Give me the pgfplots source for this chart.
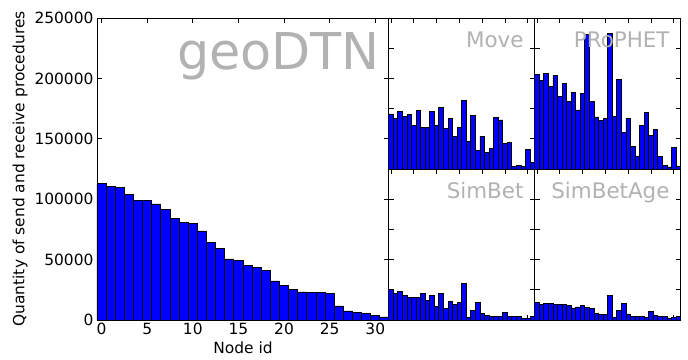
\documentclass[border=0pt]{standalone}
\usepackage{fontspec}
\setmainfont{DejaVu Sans}
\usepackage{pgfplots}
\pgfplotsset{compat=1.18}
\definecolor{lbl}{rgb}{0.7,0.7,0.7}
\pgfplotsset{
  common/.style={scale only axis, ybar, bar width=1, xmin=-0.5, xmax=31.5, ymin=0,
    tick align=inside, xtick pos=both, ytick pos=both, major tick length=5bp,
    scaled ticks=false,
    axis line style={line width=0.9bp}, every tick/.style={black, line width=0.8bp},
    tick label style={font=\fontsize{15.5}{18}\selectfont},
    /pgf/number format/assume math mode=true, xtick={0,5,...,30}},
  small/.style={common, width=146bp, height=151bp, ymax=125000, ytick={0,25000,...,125000},
    xticklabels={}, yticklabels={}, axis background/.style={fill=white}},
}
\tikzset{
  barsty/.style={fill=blue, draw=black, line width=0.8bp},
  plbl/.style={anchor=base east, text=lbl, inner sep=0pt, font=\fontsize{21.5}{24}\selectfont, xshift=-11bp, yshift=-30bp}
}
\begin{document}
\begin{tikzpicture}
\begin{axis}[common, at={(0bp,0bp)}, anchor=south west, width=292bp, height=302bp,
  ymax=250000, ytick={0,50000,...,250000}, xticklabel pos=lower, yticklabel pos=left,
  yticklabel style={/pgf/number format/fixed, /pgf/number format/1000 sep={}},
  xlabel={Node id}, ylabel={Quantity of send and receive procedures},
  label style={font=\fontsize{15.5}{18}\selectfont}]
\addplot[barsty] coordinates {(0,112700) (1,110200) (2,109400) (3,104100) (4,98900) (5,98900) (6,96100) (7,91700) (8,84200) (9,80900) (10,79800) (11,73700) (12,64400) (13,59400) (14,50500) (15,49200) (16,45300) (17,43400) (18,40900) (19,32300) (20,28700) (21,25400) (22,23200) (23,22600) (24,22600) (25,22100) (26,11600) (27,7500) (28,6600) (29,5200) (30,4100) (31,2500)};
\node[anchor=base east, text=lbl, inner sep=0pt, font=\fontsize{51}{56}\selectfont, xshift=-9bp, yshift=-52bp] at (rel axis cs:1,1) {geoDTN};
\end{axis}
\begin{axis}[small, at={(291.7bp,151bp)}, anchor=south west]
\addplot[barsty] coordinates {(0,45600) (1,41700) (2,47500) (3,43300) (4,45000) (5,35800) (6,48100) (7,34700) (8,34700) (9,47500) (10,36100) (11,50800) (12,33900) (13,42200) (14,27200) (15,34700) (16,56700) (17,23100) (18,44200) (19,15000) (20,27200) (21,13900) (22,17200) (23,42800) (24,40600) (25,20800) (26,22200) (27,2200) (28,3100) (29,2200) (30,16400) (31,5300)};
\node[plbl] at (rel axis cs:1,1) {Move};
\end{axis}
\begin{axis}[small, at={(437.7bp,151bp)}, anchor=south west]
\addplot[barsty] coordinates {(0,78300) (1,73100) (2,78900) (3,68300) (4,77500) (5,59700) (6,70600) (7,55600) (8,63100) (9,48900) (10,62200) (11,111500) (12,55800) (13,43100) (14,40000) (15,42200) (16,112500) (17,43600) (18,74400) (19,30600) (20,42200) (21,18300) (22,10800) (23,36400) (24,46700) (25,28100) (26,32500) (27,10600) (28,3300) (29,1700) (30,18100) (31,2500)};
\node[plbl] at (rel axis cs:1,1) {PRoPHET};
\end{axis}
\begin{axis}[small, at={(291.7bp,0bp)}, anchor=south west]
\addplot[barsty] coordinates {(0,25000) (1,21900) (2,23600) (3,20300) (4,18900) (5,18900) (6,18900) (7,21700) (8,16400) (9,20100) (10,11500) (11,22200) (12,9200) (13,15600) (14,13100) (15,14900) (16,30600) (17,2200) (18,7800) (19,14400) (20,5600) (21,4000) (22,2900) (23,2800) (24,2800) (25,6100) (26,2600) (27,3000) (28,3000) (29,1500) (30,1500) (31,3300)};
\node[plbl] at (rel axis cs:1,1) {SimBet};
\end{axis}
\begin{axis}[small, at={(437.7bp,0bp)}, anchor=south west]
\addplot[barsty] coordinates {(0,14400) (1,12800) (2,13900) (3,13900) (4,13100) (5,12800) (6,12800) (7,12200) (8,10000) (9,10800) (10,11700) (11,10600) (12,9400) (13,5600) (14,4400) (15,4400) (16,20000) (17,2200) (18,8100) (19,13900) (20,5000) (21,2800) (22,2800) (23,2800) (24,2200) (25,7200) (26,3600) (27,2800) (28,2800) (29,1400) (30,1900) (31,3100)};
\node[plbl] at (rel axis cs:1,1) {SimBetAge};
\end{axis}
\pgfresetboundingbox
\path (-97bp,-40bp) rectangle (591bp,320bp);
\end{tikzpicture}
\end{document}
